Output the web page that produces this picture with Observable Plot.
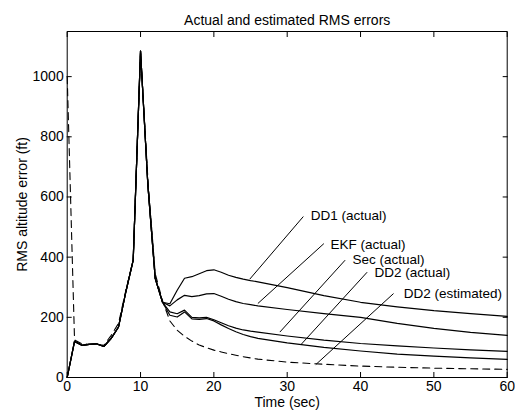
<!DOCTYPE html>
<html><head><meta charset="utf-8">
<script src="https://cdn.jsdelivr.net/npm/d3@7"></script>
<script src="https://cdn.jsdelivr.net/npm/@observablehq/plot@0.6"></script>
<style>html,body{margin:0;padding:0;background:#fff} svg{display:block}</style>
</head><body><div id="chart"></div>
<script>
const titleText = "Actual and estimated RMS errors";
const xLabel = "Time (sec)";
const yLabel = "RMS altitude error (ft)";
const xTicks = [0, 10, 20, 30, 40, 50, 60];
const yTicks = [0, 200, 400, 600, 800, 1000];

const times = [0,1,2,3,4,5,6,7,8,9,10,11,12,13,14,15,16,17,18,19,20,21,22,23,24,25,26,30,35,40,45,50,55,60];
const dd1Actual = [0,120,107,110,112,103,130,168,285,390,1085,640,330,250,245,290,330,335,345,355,358,350,340,333,327,322,318,299,272,250,235,222,212,203];
const ekfActual = [0,120,107,110,112,103,130,168,285,390,1085,640,330,250,238,258,273,269,272,278,279,270,260,252,246,242,238,226,212,200,180,163,150,140];
const secActual = [0,120,107,110,112,103,130,168,285,390,1085,640,330,250,218,212,224,200,198,200,192,182,172,164,158,154,151,138,124,113,105,98,92,87];
const dd2Actual = [0,120,107,110,112,103,130,168,285,390,1085,640,330,250,207,201,218,195,193,196,188,175,163,152,143,136,130,115,100,88,78,71,65,60];
const dd2Estimated = [1000,125,112,110,110,107,140,180,290,390,1080,660,345,255,188,157,137,121,108,99,91,85,79,74,69,65,61,51,44,38,34,31,29,27];

const labels = ["DD1 (actual)", "EKF (actual)", "Sec (actual)", "DD2 (actual)", "DD2 (estimated)"];
const labelT = [33.2, 35.9, 38.9, 41.9, 45.9];
const labelV = [537, 443, 392, 347, 277];
const pointerFromT = [32.2, 35.0, 37.9, 40.9, 44.5];
const pointerFromV = [535, 445, 390, 350, 279];
const pointerToT = [24.9, 26.0, 29.0, 31.9, 33.9];
const pointerToV = [327, 246, 151, 110, 43];

const actualSeries = [["DD1", dd1Actual], ["EKF", ekfActual], ["Sec", secActual], ["DD2", dd2Actual]];
const actualRows = actualSeries.flatMap(([name, vals]) => times.map((t, i) => ({series: name, t, v: vals[i]})));
const estRows = times.map((t, i) => ({t, v: dd2Estimated[i]}));
const annot = labels.map((label, i) => ({label, lt: labelT[i], lv: labelV[i], x1: pointerFromT[i], y1: pointerFromV[i], x2: pointerToT[i], y2: pointerToV[i]}));

const font = "'Liberation Sans', Arial, Helvetica, sans-serif";
const chart = Plot.plot({
  width: 515, height: 414,
  marginLeft: 66.7, marginRight: 8.3, marginTop: 31, marginBottom: 37,
  style: {fontFamily: font, fontSize: "14px", background: "#fff", color: "#000"},
  x: {domain: [0, 60], label: null},
  y: {domain: [0, 1150], label: null},
  marks: [
    Plot.axisX(xTicks, {anchor: "bottom", tickSize: -5, tickFormat: () => "", label: null}),
    Plot.axisX(xTicks, {anchor: "top", tickSize: -5, tickFormat: () => "", label: null}),
    Plot.axisY(yTicks, {anchor: "left", tickSize: -5, tickFormat: () => "", label: null}),
    Plot.axisY(yTicks, {anchor: "right", tickSize: -5, tickFormat: () => "", label: null}),
    Plot.text(xTicks, {x: d => d, frameAnchor: "bottom", dy: 9.5, textAnchor: "middle", lineAnchor: "middle", text: d => String(d), fontSize: 14}),
    Plot.text(yTicks, {y: d => d, frameAnchor: "left", dx: -3.5, textAnchor: "end", lineAnchor: "middle", text: d => String(d), fontSize: 14}),
    Plot.line(actualRows, {x: "t", y: "v", z: "series", stroke: "#000", strokeWidth: 1.2}),
    Plot.line(estRows, {x: "t", y: "v", stroke: "#000", strokeWidth: 1.1, strokeDasharray: "7,5"}),
    Plot.link(annot, {x1: "x1", y1: "y1", x2: "x2", y2: "y2", stroke: "#000", strokeWidth: 1}),
    Plot.text(annot, {x: "lt", y: "lv", text: "label", textAnchor: "start", fontSize: 13.5}),
    Plot.frame({stroke: "#000", strokeWidth: 1}),
    Plot.text([titleText], {frameAnchor: "top", dy: -16, textAnchor: "middle", fontSize: 14}),
    Plot.text([xLabel], {frameAnchor: "bottom", dy: 29, textAnchor: "middle", fontSize: 14}),
    Plot.text([yLabel], {frameAnchor: "left", dx: -45, rotate: -90, textAnchor: "middle", fontSize: 14})
  ]
});
document.getElementById("chart").appendChild(chart);
</script>
</body></html>
